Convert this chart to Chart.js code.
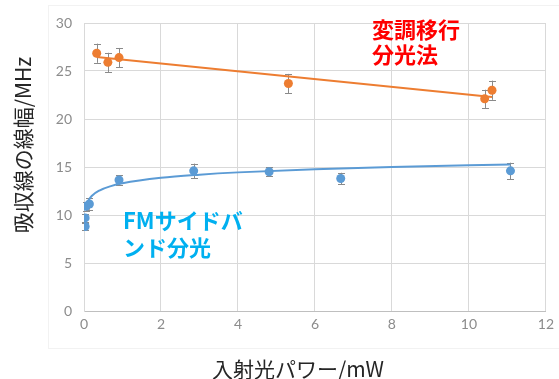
<!DOCTYPE html>
<html><head><meta charset="utf-8">
<script src="https://cdn.jsdelivr.net/npm/chart.js@4/dist/chart.umd.min.js"></script>
<style>html,body{margin:0;padding:0;background:#fff}#wrap{width:559px;height:379px}</style>
</head><body><div id="wrap"><canvas id="c" width="559" height="379"></canvas></div>
<script>
// FM sideband spectroscopy (blue)
const fmX   = [0.03, 0.03, 0.05, 0.14, 0.91, 2.85, 4.81, 6.67, 11.08];
const fmY   = [8.8, 9.7, 10.9, 11.15, 13.65, 14.6, 14.5, 13.8, 14.6];
const fmErr = [0.4, 0.4, 0.5, 0.6, 0.5, 0.75, 0.45, 0.6, 0.85];
// Modulation transfer spectroscopy (orange)
const mtX   = [0.33, 0.62, 0.91, 5.31, 10.41, 10.6];
const mtY   = [26.85, 25.9, 26.4, 23.7, 22.1, 23.0];
const mtErr = [1.0, 1.0, 1.0, 1.0, 0.95, 1.0];
// Trendlines
const fmTrendX = [0.04, 0.06, 0.1, 0.2, 0.4, 0.7, 1, 2, 3, 4, 6, 8, 10, 11.08];
const fmTrendY = [10.66, 10.99, 11.41, 11.98, 12.55, 13.01, 13.3, 13.87, 14.2, 14.44, 14.77, 15.0, 15.19, 15.27];
const mtTrendX = [0.33, 10.6];
const mtTrendY = [26.46, 22.3];
// Axes
const xTicks = [0, 2, 4, 6, 8, 10, 12];
const yTicks = [0, 5, 10, 15, 20, 25, 30];
const xTitle = '入射光パワー/mW';
const yTitle = '吸収線の線幅/MHz';
const mtLabel = ['変調移行', '分光法'];
const fmLabel = ['FMサイドバ', 'ンド分光'];

const BLUE = '#5B9BD5', ORANGE = '#ED7D31';
const pts = (xs, ys) => xs.map((x, i) => ({x, y: ys[i]}));
const CJK = '"Noto Sans CJK JP", "Noto Sans", sans-serif';

const errPlugin = {
  id: 'err',
  beforeDatasetsDraw(chart) {
    const {ctx, scales: {x, y}} = chart;
    ctx.save();
    ctx.strokeStyle = '#8a8a8a';
    ctx.lineWidth = 1;
    chart.data.datasets.forEach(ds => {
      if (!ds.errs) return;
      ds.data.forEach((p, i) => {
        const px = Math.round(x.getPixelForValue(p.x)) + 0.5;
        const t = y.getPixelForValue(p.y + ds.errs[i]);
        const b = y.getPixelForValue(p.y - ds.errs[i]);
        ctx.beginPath();
        ctx.moveTo(px, t); ctx.lineTo(px, b);
        ctx.moveTo(px - 3.5, Math.round(t) + 0.5); ctx.lineTo(px + 3.5, Math.round(t) + 0.5);
        ctx.moveTo(px - 3.5, Math.round(b) + 0.5); ctx.lineTo(px + 3.5, Math.round(b) + 0.5);
        ctx.stroke();
      });
    });
    ctx.restore();
  }
};

const textPlugin = {
  id: 'texts',
  beforeDraw(chart) {
    const ctx = chart.ctx;
    ctx.save();
    ctx.strokeStyle = '#f2f2f2';
    ctx.lineWidth = 1;
    ctx.strokeRect(48.5, 5.5, 600, 343);
    ctx.restore();
  },
  afterDraw(chart) {
    const ctx = chart.ctx;
    ctx.save();
    ctx.textBaseline = 'middle';
    ctx.fillStyle = '#262626';
    ctx.font = '21px ' + CJK;
    ctx.textAlign = 'center';
    ctx.fillText(xTitle, 298, 369);
    ctx.save();
    ctx.translate(23, 145);
    ctx.rotate(-Math.PI / 2);
    ctx.fillText(yTitle, 0, 0);
    ctx.restore();
    ctx.textAlign = 'left';
    ctx.font = 'bold 22px ' + CJK;
    ctx.fillStyle = '#FF0000';
    ctx.fillText(mtLabel[0], 372, 30);
    ctx.fillText(mtLabel[1], 372, 55);
    ctx.fillStyle = '#00B0F0';
    ctx.fillText(fmLabel[0], 123, 221);
    ctx.fillText(fmLabel[1], 123, 248);
    ctx.restore();
  }
};

new Chart(document.getElementById('c'), {
  type: 'scatter',
  data: {
    datasets: [
      {data: pts(fmX, fmY), errs: fmErr, backgroundColor: BLUE, borderColor: BLUE, pointRadius: 4.5, pointBorderWidth: 0, order: 2},
      {data: pts(mtX, mtY), errs: mtErr, backgroundColor: ORANGE, borderColor: ORANGE, pointRadius: 4.5, pointBorderWidth: 0, order: 2},
      {data: pts(fmTrendX, fmTrendY), showLine: true, borderColor: BLUE, borderWidth: 2, pointRadius: 0, tension: 0.4, cubicInterpolationMode: 'monotone', order: 1},
      {data: pts(mtTrendX, mtTrendY), showLine: true, borderColor: ORANGE, borderWidth: 2, pointRadius: 0, order: 1}
    ]
  },
  options: {
    responsive: false,
    animation: false,
    devicePixelRatio: 1,
    layout: {padding: {left: 0, right: 8, top: 23, bottom: 0}},
    plugins: {legend: {display: false}, tooltip: {enabled: false}},
    scales: {
      x: {
        type: 'linear', min: xTicks[0], max: xTicks[xTicks.length - 1],
        afterBuildTicks: s => { s.ticks = xTicks.map(v => ({value: v})); },
        afterFit: s => { s.height = 68; },
        grid: {color: '#d9d9d9', drawTicks: false},
        border: {color: '#bfbfbf'},
        ticks: {padding: 5, color: '#8c8c8c', font: {family: 'Lato', size: 14}}
      },
      y: {
        type: 'linear', min: yTicks[0], max: yTicks[yTicks.length - 1],
        afterBuildTicks: s => { s.ticks = yTicks.map(v => ({value: v})); },
        afterFit: s => { s.width = 84; },
        grid: {color: '#d9d9d9', drawTicks: false},
        border: {color: '#d9d9d9'},
        ticks: {padding: 12, color: '#8c8c8c', font: {family: 'Lato', size: 14}}
      }
    }
  },
  plugins: [errPlugin, textPlugin]
});
</script></body></html>
